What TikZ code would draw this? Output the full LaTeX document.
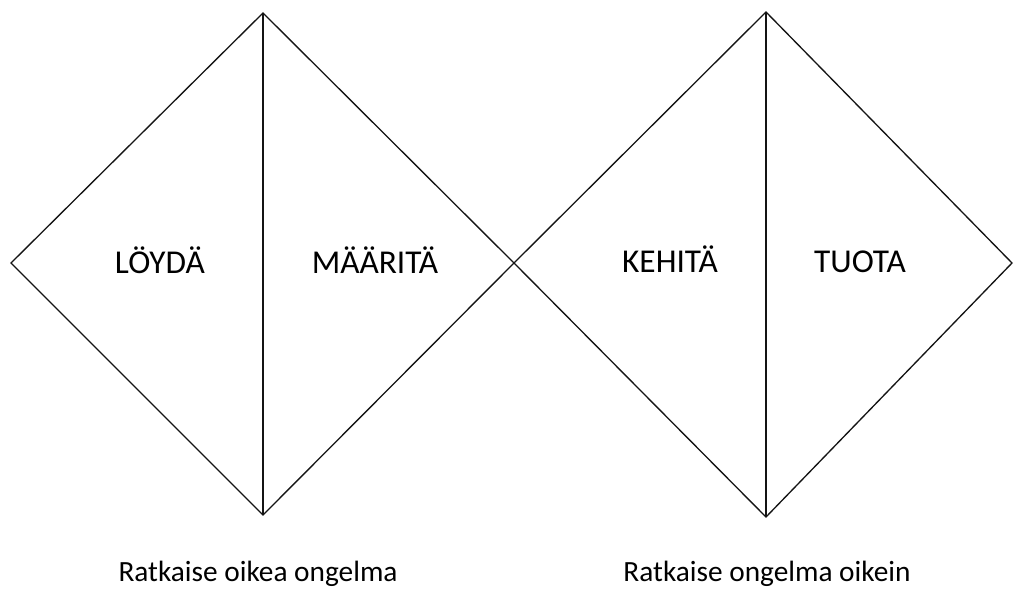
\documentclass[tikz,border=0pt]{standalone}
\usepackage{fontspec}
\setmainfont{Carlito}
\usepackage{tikz}
\usetikzlibrary{positioning, calc}
\definecolor{linegray}{RGB}{20, 20, 20}

\tikzset{
    phase/.style={font=\fontsize{25pt}{29pt}\selectfont, text=black, anchor=base},
    goal/.style={font=\fontsize{22pt}{26pt}\selectfont, text=black, anchor=base},
    edge/.style={draw=linegray, line width=1pt}
}

\begin{document}
\begin{tikzpicture}[x=0.75pt, y=-0.75pt]
    \useasboundingbox (0,0) rectangle (1013,592);
    % corners of the two diamonds
    \coordinate (leftW) at (11,263);
    \coordinate (leftN) at (263,13);
    \coordinate (leftS) at (263,515);
    \coordinate (mid) at (514,263);
    \coordinate (rightN) at (766,12);
    \coordinate (rightS) at (766,517);
    \coordinate (rightE) at (1012,263);

    \draw[edge] (leftW) -- (leftN) -- (mid) -- (leftS) -- cycle;
    \draw[edge] (mid) -- (rightN) -- (rightE) -- (rightS) -- cycle;
    \draw[edge] (leftN) -- (leftS);
    \draw[edge] (rightN) -- (rightS);

    % phases
    \node[phase] (loyda) at (160,273) {LÖYDÄ};
    \node[phase] (maarita) at (375,273) {MÄÄRITÄ};
    \node[phase] (kehita) at (670,272) {KEHITÄ};
    \node[phase] (tuota) at (860,272) {TUOTA};

    % goals
    \node[goal] (oikea) at (258,581) {Ratkaise oikea ongelma};
    \node[goal] (oikein) at (767,581) {Ratkaise ongelma oikein};
\end{tikzpicture}
\end{document}
